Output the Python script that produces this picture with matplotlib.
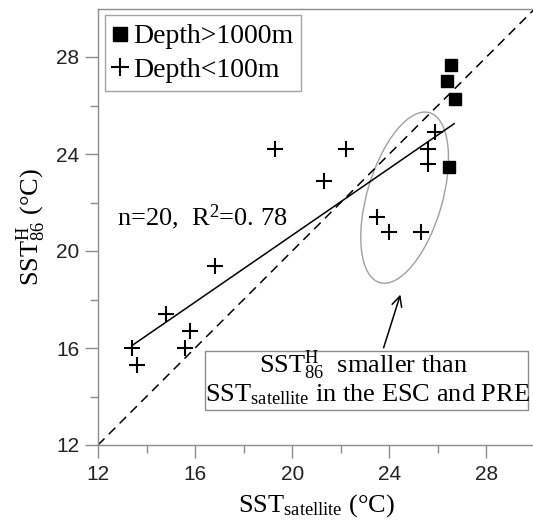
import matplotlib
matplotlib.use("Agg")
from matplotlib import pyplot as plt
from matplotlib.patches import Ellipse, Rectangle

plt.rcParams['font.family'] = ['Liberation Serif', 'DejaVu Serif']
plt.rcParams['mathtext.fontset'] = 'custom'
plt.rcParams['mathtext.rm'] = 'Liberation Serif'
plt.rcParams['mathtext.it'] = 'Liberation Serif:italic'
plt.rcParams['mathtext.bf'] = 'Liberation Serif:bold'

# shallow sites (depth < 100 m)
shallow_x = [19.3, 22.2, 21.3, 25.9, 25.6, 25.6, 23.5, 24.0, 25.3,
             16.8, 14.8, 15.8, 15.6, 13.4, 13.6]
shallow_y = [24.2, 24.2, 22.9, 24.9, 24.2, 23.6, 21.4, 20.8, 20.8,
             19.4, 17.4, 16.7, 16.0, 16.0, 15.3]

# deep sites (depth > 1000 m)
deep_x = [26.55, 26.38, 26.72, 26.46]
deep_y = [27.65, 27.0, 26.25, 23.45]

# regression line end points
fit_x = [13.4, 26.67]
fit_y = [16.1, 25.25]

# 1:1 line
one_x = [12, 30]
one_y = [12, 30]

ticks = [12, 16, 20, 24, 28]
minor_ticks = [14, 18, 22, 26]

grey = '#8c8c8c'

fig = plt.figure(figsize=(5.33, 5.27), dpi=100)
ax = fig.add_axes([98 / 533, 82 / 527, 437 / 533, 436.5 / 527])

ax.plot(one_x, one_y, color='black', lw=1.1, ls=(0, (6, 4)))
ax.plot(fit_x, fit_y, color='black', lw=1.1)

ax.plot(deep_x, deep_y, ls='none', marker='s', ms=9, color='black',
        label='Depth>1000m')
ax.plot(shallow_x, shallow_y, ls='none', marker='+', ms=12, mew=1.5,
        color='black', label='Depth<100m')

# circled group of sites
ax.add_patch(Ellipse((24.63, 22.2), width=7.3, height=3.1, angle=73.7,
                     fill=False, ec='#a0a0a0', lw=1.0))

ax.text(12.78, 21.4, 'n=20,  R$^{2}$=0. 78', fontsize=19, va='center')

# note box with arrow
ax.add_patch(Rectangle((16.4, 13.44), 13.3, 2.44, fill=False, ec=grey, lw=1.0))
ax.text(22.95, 14.97, r'SST$^{\mathrm{H}}_{\mathrm{86}}$  smaller than',
        fontsize=19, ha='center', va='baseline')
ax.text(23.1, 13.79, r'SST$_{\mathrm{satellite}}$ in the ESC and PRE',
        fontsize=19, ha='center', va='baseline')
ax.annotate('', xy=(24.49, 18.31), xytext=(23.73, 15.9),
            arrowprops=dict(arrowstyle='->', color='black', lw=1.1,
                            mutation_scale=18))

ax.set_xlim(12, 30)
ax.set_ylim(12, 30)
ax.set_xticks(ticks)
ax.set_yticks(ticks)
ax.set_xticks(minor_ticks, minor=True)
ax.set_yticks(minor_ticks, minor=True)
for lab in ax.get_xticklabels() + ax.get_yticklabels():
    lab.set_family(['Liberation Sans', 'DejaVu Sans'])
    lab.set_fontsize(15)
    lab.set_color('#222222')
ax.tick_params(which='major', length=9.5, width=1, color=grey, pad=4)
ax.tick_params(which='minor', length=6, width=1, color=grey)
ax.tick_params(axis='x', which='major', pad=5)
for side in ['left', 'bottom', 'top', 'right']:
    ax.spines[side].set_color(grey)
    ax.spines[side].set_linewidth(1)

ax.set_xlabel(r'SST$_{\mathrm{satellite}}$ (°C)', fontsize=19, labelpad=6)
ax.set_ylabel(r'SST$^{\mathrm{H}}_{\mathrm{86}}$ (°C)', fontsize=19, labelpad=6)

leg = ax.legend(loc='upper left', fontsize=20, frameon=True, fancybox=False,
                handlelength=0.5, handletextpad=0.2, borderpad=0.3,
                labelspacing=0.3, borderaxespad=0.25, markerscale=1.1)
leg.get_frame().set_edgecolor(grey)
leg.get_frame().set_linewidth(1)

fig.savefig('out.png', dpi=100)
